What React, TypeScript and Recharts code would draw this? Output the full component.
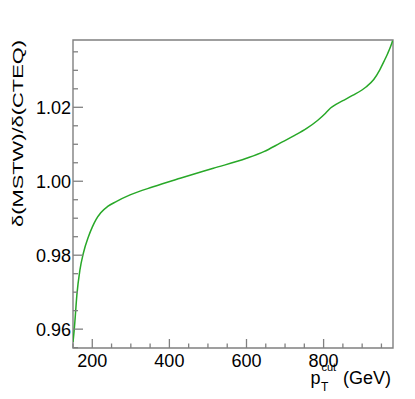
import { LineChart, Line, XAxis, YAxis, ReferenceArea } from 'recharts';

// ratio of the cut efficiencies
const ptCut = [
  150, 152, 155, 160, 168, 177, 190, 200, 210, 222, 240, 262, 298, 358, 428, 514, 600, 645, 687,
  725, 756, 785, 805, 818, 832, 850, 875, 910, 930, 945, 957, 966, 974, 979,
];
const ratio = [
  0.9565, 0.9585, 0.9622, 0.9692, 0.976, 0.9806, 0.985, 0.9876, 0.9897, 0.9915, 0.9932, 0.9945,
  0.9963, 0.9985, 1.0008, 1.0035, 1.0062, 1.008, 1.0103, 1.0124, 1.0143, 1.0165, 1.0184, 1.0198,
  1.0208, 1.0218, 1.0232, 1.0255, 1.0275, 1.03, 1.0325, 1.0345, 1.0365, 1.038,
];

const xMajor = [200, 400, 600, 800];
const xTicks = [150, 200, 250, 300, 350, 400, 450, 500, 550, 600, 650, 700, 750, 800, 850, 900, 950];
const yMajor = [0.96, 0.98, 1.0, 1.02];
const yTicks = [0.955, 0.96, 0.965, 0.97, 0.975, 0.98, 0.985, 0.99, 0.995, 1.0, 1.005, 1.01, 1.015, 1.02, 1.025, 1.03, 1.035];

const X_DOMAIN: [number, number] = [150, 980];
const Y_DOMAIN: [number, number] = [0.9549, 1.0382];

const data = ptCut.map((x, i) => ({ x, y: ratio[i] }));

const FONT = '"Liberation Sans", Arial, Helvetica, sans-serif';
const FRAME = '#808080';
const LEFT = 73;
const BOTTOM = 348;

const isMajor = (list: number[], v: number) => list.some((m) => Math.abs(m - v) < 1e-6);

function XTick(props: any) {
  const { x, payload } = props;
  const major = isMajor(xMajor, payload.value);
  return (
    <g>
      <line x1={x} x2={x} y1={BOTTOM} y2={BOTTOM - (major ? 9 : 4.5)} stroke={FRAME} strokeWidth={1.3} />
      {major && (
        <text x={x} y={366.5} textAnchor="middle" fontSize={18} fontFamily={FONT} fill="#000">
          {payload.value}
        </text>
      )}
    </g>
  );
}

function YTick(props: any) {
  const { y, payload } = props;
  const major = isMajor(yMajor, payload.value);
  return (
    <g>
      <line x1={LEFT} x2={LEFT + (major ? 10 : 5)} y1={y} y2={y} stroke={FRAME} strokeWidth={1.3} />
      {major && (
        <text x={71} y={y + 6.5} textAnchor="end" fontSize={18} fontFamily={FONT} fill="#000">
          {payload.value.toFixed(2)}
        </text>
      )}
    </g>
  );
}

export default function App() {
  return (
    <div style={{ position: 'absolute', left: 0, top: 0, width: 415, height: 399, background: '#fff' }}>
      <LineChart width={415} height={399} data={data} margin={{ top: 40, right: 22, bottom: 11, left: 13 }}>
        <XAxis
          dataKey="x"
          type="number"
          domain={X_DOMAIN}
          allowDataOverflow
          ticks={xTicks}
          interval={0}
          height={40}
          axisLine={false}
          tickLine={false}
          tick={<XTick />}
        />
        <YAxis
          type="number"
          domain={Y_DOMAIN}
          allowDataOverflow
          ticks={yTicks}
          interval={0}
          width={60}
          axisLine={false}
          tickLine={false}
          tick={<YTick />}
        />
        <ReferenceArea
          x1={X_DOMAIN[0]}
          x2={X_DOMAIN[1]}
          y1={Y_DOMAIN[0]}
          y2={Y_DOMAIN[1]}
          fill="none"
          stroke={FRAME}
          strokeWidth={1.4}
        />
        <Line
          type="monotone"
          dataKey="y"
          stroke="#28a828"
          strokeWidth={1.5}
          dot={false}
          isAnimationActive={false}
        />
      </LineChart>
      <svg width={415} height={399} style={{ position: 'absolute', left: 0, top: 0, pointerEvents: 'none' }}>
        <text
          transform="translate(23,40) rotate(-90)"
          textAnchor="end"
          fontSize={15}
          fontFamily={FONT}
          textLength={187}
          lengthAdjust="spacingAndGlyphs"
          fill="#000"
        >
          δ(MSTW)/δ(CTEQ)
        </text>
        <text x={310.5} y={384} fontSize={18} fontFamily={FONT} fill="#000">
          p
          <tspan x={321} y={391} fontSize={12}>T</tspan>
          <tspan x={321.5} y={371} fontSize={11}>cut</tspan>
          <tspan x={343} y={384} fontSize={18}>(GeV)</tspan>
        </text>
      </svg>
    </div>
  );
}
